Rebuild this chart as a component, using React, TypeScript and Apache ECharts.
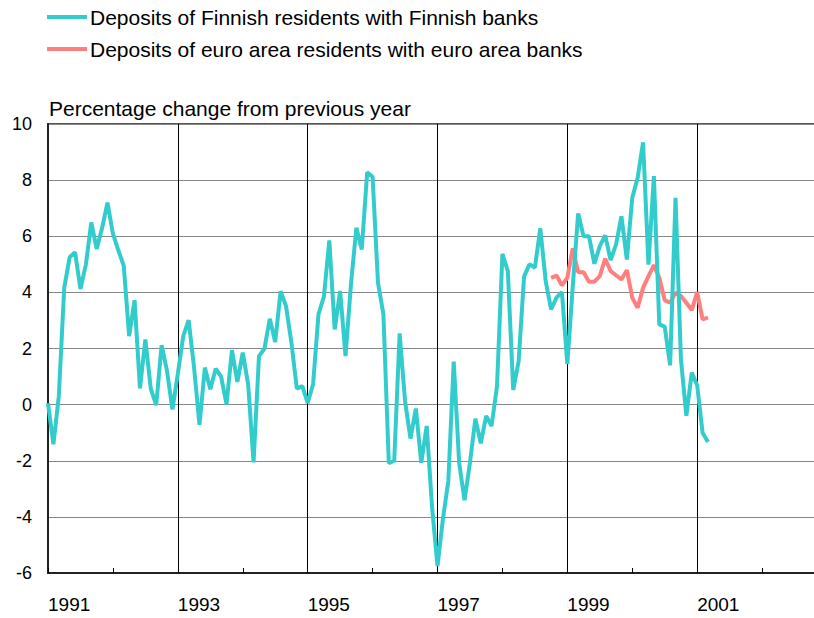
import React, { useEffect, useRef } from "react";
import * as echarts from "echarts";

const startYear = 1991;
const seriesNames = [
  "Deposits of Finnish residents with Finnish banks",
  "Deposits of euro area residents with euro area banks",
];
// Monthly values, Jan 1991 onwards
const finnishDeposits = [
  0.05, -1.41, 0.3, 4.16, 5.25, 5.43, 4.12, 4.99, 6.49, 5.55, 6.29, 7.2,
  6.09, 5.5, 4.95, 2.44, 3.72, 0.58, 2.32, 0.57, -0.02, 2.12, 1.2, -0.17,
  1.1, 2.44, 3.01, 1.32, -0.72, 1.32, 0.55, 1.28, 1.0, 0.01, 1.94, 0.81,
  1.85, 0.72, -2.06, 1.73, 1.99, 3.06, 2.23, 4.04, 3.51, 2.2, 0.57, 0.66,
  0.06, 0.72, 3.22, 3.85, 5.85, 2.68, 4.05, 1.73, 4.28, 6.3, 5.53, 8.28,
  8.12, 4.34, 3.22, -2.09, -2.0, 2.54, 0.13, -1.21, -0.14, -2.07, -0.76, -3.67,
  -5.75, -4.08, -2.72, 1.53, -2.07, -3.41, -2.07, -0.5, -1.38, -0.4, -0.76, 0.66,
  5.37, 4.76, 0.52, 1.55, 4.56, 5.0, 4.88, 6.28, 4.4, 3.39, 3.81, 4.01,
  1.44, 4.2, 6.81, 6.0, 6.0, 5.02, 5.65, 6.03, 5.15, 5.7, 6.71, 5.17,
  7.37, 8.08, 9.35, 4.99, 8.14, 2.86, 2.78, 1.4, 7.37, 1.61, -0.4, 1.14,
  0.69, -1.0, -1.33,
];
// Monthly values, starting at month index 93 (Oct 1998)
const euroStartIndex = 93;
const euroAreaDeposits = [
  4.52, 4.6, 4.25, 4.52, 5.57, 4.72, 4.72, 4.38, 4.38, 4.58, 5.2, 4.76,
  4.61, 4.46, 4.79, 3.81, 3.45, 4.16, 4.58, 4.97, 4.52, 3.72, 3.63, 3.99,
  3.87, 3.63, 3.37, 4.01, 3.04, 3.1,
];
const yTitle = "Percentage change from previous year";
const xMin = 1991;
const xMax = 2003;
const yMin = -6;
const yMax = 10;

const FONT = "'Liberation Sans', Arial, sans-serif";

export default function App() {
  const ref = useRef<HTMLDivElement>(null);
  useEffect(() => {
    if (!ref.current) return;
    const chart = echarts.init(ref.current, undefined, { renderer: "svg" });
    const toX = (i: number) => startYear + i / 12;
    const finData = finnishDeposits.map((v, i) => [toX(i), v]);
    const euroData = euroAreaDeposits.map((v, i) => [toX(i + euroStartIndex), v]);
    chart.setOption({
      animation: false,
      textStyle: { fontFamily: FONT },
      title: {
        text: yTitle,
        left: 49,
        top: 96,
        padding: 0,
        textStyle: { fontSize: 21, lineHeight: 24, fontWeight: "normal", color: "#000", fontFamily: FONT },
      },
      legend: {
        orient: "vertical",
        left: 47,
        top: 5,
        padding: 0,
        itemGap: 8,
        itemWidth: 40,
        itemHeight: 4,
        icon: "rect",
        textStyle: { fontSize: 21, color: "#000", lineHeight: 24, fontFamily: FONT, padding: [0, 0, 0, -2] },
        data: seriesNames,
      },
      grid: {
        left: 48,
        top: 124,
        bottom: 45,
        right: 13,
        show: true,
        borderColor: "#555",
        borderWidth: 2,
        backgroundColor: "transparent",
      },
      xAxis: {
        type: "value",
        min: xMin,
        max: xMax,
        interval: 2,
        axisLine: { show: true, onZero: false, lineStyle: { color: "#222", width: 2 } },
        axisTick: { show: true, inside: true, length: 5, lineStyle: { color: "#000" } },
        minorTick: { show: true, splitNumber: 2, length: 5, lineStyle: { color: "#000" } },
        splitLine: { show: true, lineStyle: { color: "#000", width: 1 } },
        axisLabel: {
          fontSize: 19,
          color: "#000",
          align: "left",
          margin: 22,
          fontFamily: FONT,
          formatter: (v: number) => (v >= xMax ? "" : String(Math.round(v))),
        },
      },
      yAxis: {
        type: "value",
        min: yMin,
        max: yMax,
        interval: 2,
        axisLine: { show: true, lineStyle: { color: "#222", width: 2 } },
        axisTick: { show: false },
        splitLine: { show: true, lineStyle: { color: "#888", width: 1 } },
        axisLabel: { fontSize: 18, color: "#000", margin: 16, fontFamily: FONT },
      },
      series: [
        {
          name: seriesNames[0],
          type: "line",
          data: finData,
          showSymbol: false,
          symbol: "none",
          color: "#33CCCC",
          lineStyle: { width: 4, color: "#33CCCC" },
          z: 3,
        },
        {
          name: seriesNames[1],
          type: "line",
          data: euroData,
          showSymbol: false,
          symbol: "none",
          color: "#FF7F7F",
          lineStyle: { width: 4, color: "#FF7F7F" },
          z: 2,
        },
      ],
    });
    return () => chart.dispose();
  }, []);
  return (
    <div style={{ position: "fixed", left: 0, top: 0, width: 814, height: 618, overflow: "hidden", background: "#fff" }}>
      <div ref={ref} style={{ width: 840, height: 618 }} />
    </div>
  );
}
